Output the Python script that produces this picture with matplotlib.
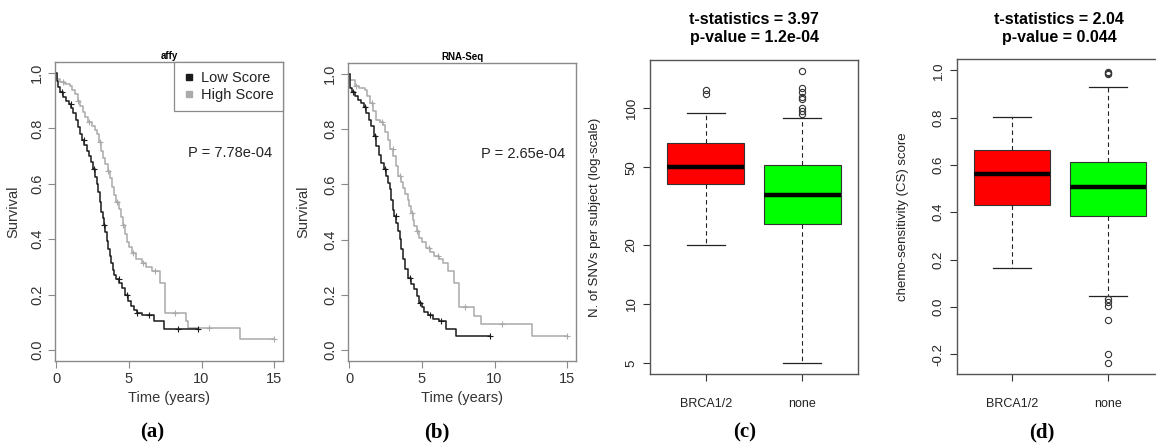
import numpy as np
import matplotlib
matplotlib.use("Agg")
import matplotlib.pyplot as plt
from matplotlib.lines import Line2D

plt.rcParams['font.family'] = ['Liberation Sans', 'DejaVu Sans']

# ---------------- data ----------------
# (a) affy Kaplan-Meier
a_low_t = [0, 0.05, 0.15, 0.3, 0.5, 0.7, 0.9, 1.05, 1.2, 1.35, 1.5, 1.65, 1.8, 1.95, 2.1, 2.25, 2.4, 2.55, 2.7, 2.8,
           2.9, 3.0, 3.1, 3.2, 3.3, 3.4, 3.5, 3.6, 3.7, 3.8, 3.9, 4.0, 4.15, 4.35, 4.55, 4.75, 4.95, 5.15, 5.35, 5.6,
           5.9, 6.3, 6.7, 7.0, 7.4, 9.75]
a_low_s = [1.0, 0.97, 0.95, 0.93, 0.915, 0.90, 0.89, 0.875, 0.855, 0.83, 0.805, 0.78, 0.76, 0.74, 0.72, 0.70, 0.68,
           0.655, 0.625, 0.60, 0.57, 0.535, 0.50, 0.475, 0.45, 0.425, 0.395, 0.365, 0.34, 0.315, 0.29, 0.27, 0.255,
           0.24, 0.225, 0.2, 0.175, 0.16, 0.145, 0.135, 0.125, 0.125, 0.105, 0.105, 0.075, 0.075]
a_high_t = [0, 0.1, 0.3, 0.6, 0.96, 1.1, 1.3, 1.5, 1.65, 1.85, 2.0, 2.2, 2.45, 2.65, 2.8, 2.95, 3.1, 3.25, 3.4, 3.55,
            3.7, 3.85, 4.0, 4.15, 4.3, 4.45, 4.6, 4.75, 4.9, 5.05, 5.2, 5.5, 5.9, 6.2, 6.6, 7.15, 7.5, 8.9, 9.1,
            12.66, 15.0]
a_high_s = [1.0, 0.98, 0.967, 0.96, 0.955, 0.94, 0.925, 0.90, 0.88, 0.86, 0.84, 0.825, 0.81, 0.795, 0.78, 0.75, 0.72,
            0.695, 0.67, 0.645, 0.62, 0.59, 0.56, 0.535, 0.51, 0.48, 0.45, 0.42, 0.39, 0.37, 0.35, 0.33, 0.315, 0.30,
            0.285, 0.24, 0.135, 0.105, 0.08, 0.04, 0.04]
a_low_cens = [0.4, 1.0, 1.9, 2.6, 3.3, 4.3, 4.9, 5.6, 6.4, 8.4, 9.75]
a_high_cens = [0.5, 1.5, 2.3, 3.0, 3.6, 4.2, 4.6, 5.3, 6.0, 6.8, 8.2, 10.5, 15.0]

# (b) RNA-Seq Kaplan-Meier
b_low_t = [0, 0.05, 0.2, 0.4, 0.6, 0.84, 1.0, 1.19, 1.35, 1.53, 1.7, 1.87, 2.05, 2.21, 2.4, 2.56, 2.7, 2.8, 2.9, 3.01,
           3.12, 3.24, 3.35, 3.47, 3.58, 3.7, 3.85, 4.04, 4.25, 4.5, 4.7, 4.84, 5.0, 5.18, 5.45, 5.75, 6.2, 6.67,
           7.35, 9.66]
b_low_s = [1.0, 0.95, 0.935, 0.919, 0.905, 0.895, 0.88, 0.859, 0.835, 0.811, 0.775, 0.738, 0.705, 0.678, 0.655, 0.63,
           0.605, 0.582, 0.545, 0.509, 0.485, 0.461, 0.43, 0.401, 0.365, 0.329, 0.295, 0.262, 0.24, 0.22, 0.195,
           0.172, 0.155, 0.136, 0.125, 0.112, 0.105, 0.075, 0.051, 0.051]
b_high_t = [0, 0.1, 0.39, 0.7, 1.07, 1.25, 1.42, 1.65, 1.87, 2.1, 2.33, 2.5, 2.67, 2.85, 3.01, 3.2, 3.36, 3.55, 3.7,
            3.87, 4.04, 4.15, 4.27, 4.4, 4.5, 4.65, 4.84, 5.05, 5.3, 5.6, 5.87, 6.15, 6.44, 6.78, 7.24, 7.58, 8.61,
            9.06, 12.6, 15.0]
b_high_s = [1.0, 0.98, 0.955, 0.95, 0.943, 0.92, 0.895, 0.865, 0.835, 0.825, 0.817, 0.79, 0.762, 0.73, 0.702, 0.665,
            0.63, 0.61, 0.588, 0.565, 0.545, 0.52, 0.497, 0.47, 0.449, 0.43, 0.407, 0.39, 0.371, 0.355, 0.341, 0.33,
            0.316, 0.286, 0.244, 0.154, 0.124, 0.094, 0.049, 0.049]
b_low_cens = [0.3, 1.1, 1.8, 2.5, 3.2, 4.2, 4.9, 5.6, 6.3, 9.66]
b_high_cens = [0.5, 1.6, 2.3, 3.0, 3.5, 4.3, 4.7, 5.5, 6.1, 8.0, 10.5, 15.0]

km_titles = ["affy", "RNA-Seq"]
km_pvals = ["P = 7.78e-04", "P = 2.65e-04"]
legend_labels = ["Low Score", "High Score"]

# (c) SNVs per subject (log scale)
box_groups = ["BRCA1/2", "none"]
c_med = [49.9, 36.1]
c_q1 = [41.0, 25.5]
c_q3 = [66.7, 51.1]
c_whislo = [20.0, 5.0]
c_whishi = [95.0, 89.5]
c_fliers = [[118, 124], [93.2, 96.9, 100, 111.2, 114.7, 121.6, 126.6, 155.7]]
c_yticks = [5, 10, 20, 50, 100]
c_title = "t-statistics = 3.97\np-value = 1.2e-04"

# (d) chemo-sensitivity score
d_med = [0.56, 0.507]
d_q1 = [0.43, 0.385]
d_q3 = [0.662, 0.612]
d_whislo = [0.164, 0.048]
d_whishi = [0.801, 0.93]
d_fliers = [[], [0.985, 0.99, 0.995, 0.035, 0.022, 0.005, -0.054, -0.2, -0.236]]
d_yticks = [-0.2, 0.0, 0.2, 0.4, 0.6, 0.8, 1.0]
d_title = "t-statistics = 2.04\np-value = 0.044"

panel_labels = ["(a)", "(b)", "(c)", "(d)"]

# ---------------- layout helpers ----------------
W, H = 1156, 445
fig = plt.figure(figsize=(W / 100, H / 100), dpi=100)


def add_ax(left, right, top, bottom):
    return fig.add_axes([left / W, 1 - bottom / H, (right - left) / W, (bottom - top) / H])


LOW_C = "#1a1a1a"
HIGH_C = "#aaaaaa"
KM_SPINE = "#8a8a8a"


def km_panel(ax, lt, ls, ht, hs, lc, hc, title, ptxt, legend):
    ax.step(ht, hs, where='post', color=HIGH_C, lw=1.1)
    ax.step(lt, ls, where='post', color=LOW_C, lw=1.1)
    for t, s, cens, col in [(ht, hs, hc, HIGH_C), (lt, ls, lc, LOW_C)]:
        t = np.asarray(t); s = np.asarray(s)
        idx = np.searchsorted(t, cens, side='right') - 1
        ax.plot(cens, s[idx], ls='none', marker='+', ms=5, mew=0.8, color=col)
    ax.set_xlim(-0.07, 15.6)
    ax.set_ylim(-0.04, 1.04)
    ax.set_xticks([0, 5, 10, 15])
    ax.set_xticklabels(["0", "5", "10", "15"], fontsize=10.5, color="#333333")
    ax.set_yticks([0, 0.2, 0.4, 0.6, 0.8, 1.0])
    ax.set_yticklabels(["0.0", "0.2", "0.4", "0.6", "0.8", "1.0"], rotation=90, va='center',
                       fontsize=10.5, color="#333333")
    ax.tick_params(length=5, width=0.8, color=KM_SPINE, pad=3)
    for sp in ax.spines.values():
        sp.set_color(KM_SPINE)
        sp.set_linewidth(1.0)
    ax.set_xlabel("Time (years)", fontsize=10.5, color="#333333")
    ax.set_ylabel("Survival", fontsize=10.5, color="#333333")
    ax.set_title(title, fontsize=7, fontweight='bold', pad=2)
    ax.text(0.77, 0.695, ptxt, transform=ax.transAxes, ha='center', va='center', fontsize=10.5, color="#222222")
    if legend:
        h = [Line2D([], [], ls='none', marker='s', ms=5, color=LOW_C),
             Line2D([], [], ls='none', marker='s', ms=5, color=HIGH_C)]
        lg = ax.legend(h, legend_labels, loc='upper right', borderaxespad=0, fancybox=False,
                       fontsize=10.5, handlelength=0.8, handletextpad=0.4, borderpad=0.65,
                       labelspacing=0.15, framealpha=1)
        lg.get_frame().set_edgecolor(KM_SPINE)
        lg.get_frame().set_linewidth(0.9)
        for txt in lg.get_texts():
            txt.set_color("#222222")


ax_a = add_ax(55, 283, 62, 361)
km_panel(ax_a, a_low_t, a_low_s, a_high_t, a_high_s, a_low_cens, a_high_cens,
         km_titles[0], km_pvals[0], True)
ax_a.yaxis.set_label_coords(-0.154, 0.5)
ax_a.xaxis.set_label_coords(0.5, -0.1)

ax_b = add_ax(348, 576, 63, 361)
km_panel(ax_b, b_low_t, b_low_s, b_high_t, b_high_s, b_low_cens, b_high_cens,
         km_titles[1], km_pvals[1], False)
ax_b.yaxis.set_label_coords(-0.167, 0.5)
ax_b.xaxis.set_label_coords(0.5, -0.1)

BOX_SPINE = "#555555"


def box_panel(ax, med, q1, q3, lo, hi, fl):
    stats = []
    for i in range(len(box_groups)):
        stats.append(dict(med=med[i], q1=q1[i], q3=q3[i], whislo=lo[i], whishi=hi[i],
                          fliers=fl[i], label=box_groups[i]))
    bp = ax.bxp(stats, positions=[1, 2], widths=0.8, patch_artist=True, showfliers=True,
                capwidths=0.4,
                boxprops=dict(edgecolor="#333333", linewidth=0.8),
                medianprops=dict(color="black", linewidth=3.2, solid_capstyle='butt'),
                whiskerprops=dict(color="#222222", linewidth=0.8, linestyle=(0, (4, 3))),
                capprops=dict(color="#222222", linewidth=0.9),
                flierprops=dict(marker='o', markersize=4.5, markerfacecolor='none',
                                markeredgecolor="#333333", markeredgewidth=0.8))
    for patch, col in zip(bp['boxes'], ["#ff0000", "#00ff00"]):
        patch.set_facecolor(col)
    ax.set_xlim(0.42, 2.58)
    ax.set_xticks([1, 2])
    ax.set_xticklabels(box_groups, fontsize=9, color="#222222")
    for sp in ax.spines.values():
        sp.set_color(BOX_SPINE)
        sp.set_linewidth(1.0)
    ax.tick_params(length=5, width=0.8, color="#333333")
    ax.tick_params(axis='x', pad=12)
    ax.tick_params(axis='y', pad=4)


ax_c = add_ax(650, 858, 60, 374)
box_panel(ax_c, c_med, c_q1, c_q3, c_whislo, c_whishi, c_fliers)
ax_c.set_yscale('log')
ax_c.set_ylim(4.39, 176.6)
ax_c.set_yticks(c_yticks)
ax_c.set_yticklabels([str(v) for v in c_yticks], rotation=90, va='center', fontsize=9.5, color="#222222")
ax_c.minorticks_off()
ax_c.set_ylabel("N. of SNVs per subject (log-scale)", fontsize=9.5, color="#222222")
ax_c.yaxis.set_label_coords(-0.236, 0.5)

ax_d = add_ax(957, 1163, 59, 374)
box_panel(ax_d, d_med, d_q1, d_q3, d_whislo, d_whishi, d_fliers)
ax_d.set_ylim(-0.2835, 1.048)
ax_d.set_yticks(d_yticks)
ax_d.set_yticklabels([f"{v:.1f}" for v in d_yticks], rotation=90, va='center', fontsize=9.5, color="#222222")
ax_d.set_ylabel("chemo-sensitivity (CS) score", fontsize=9.5, color="#222222")
ax_d.yaxis.set_label_coords(-0.233, 0.5)

for cx, txt in [(754, c_title), (1059, d_title)]:
    fig.text(cx / W, 1 - 28.5 / H, txt, ha='center', va='center', fontsize=11.5, fontweight='bold',
             linespacing=1.2, color="black")

for cx, lab in zip([152, 437, 745, 1042], panel_labels):
    fig.text(cx / W, 1 - 432 / H, lab, ha='center', va='center', fontsize=15, fontweight='bold',
             family=['Liberation Serif', 'DejaVu Serif'])

fig.savefig("out.png", dpi=100, facecolor='white')
